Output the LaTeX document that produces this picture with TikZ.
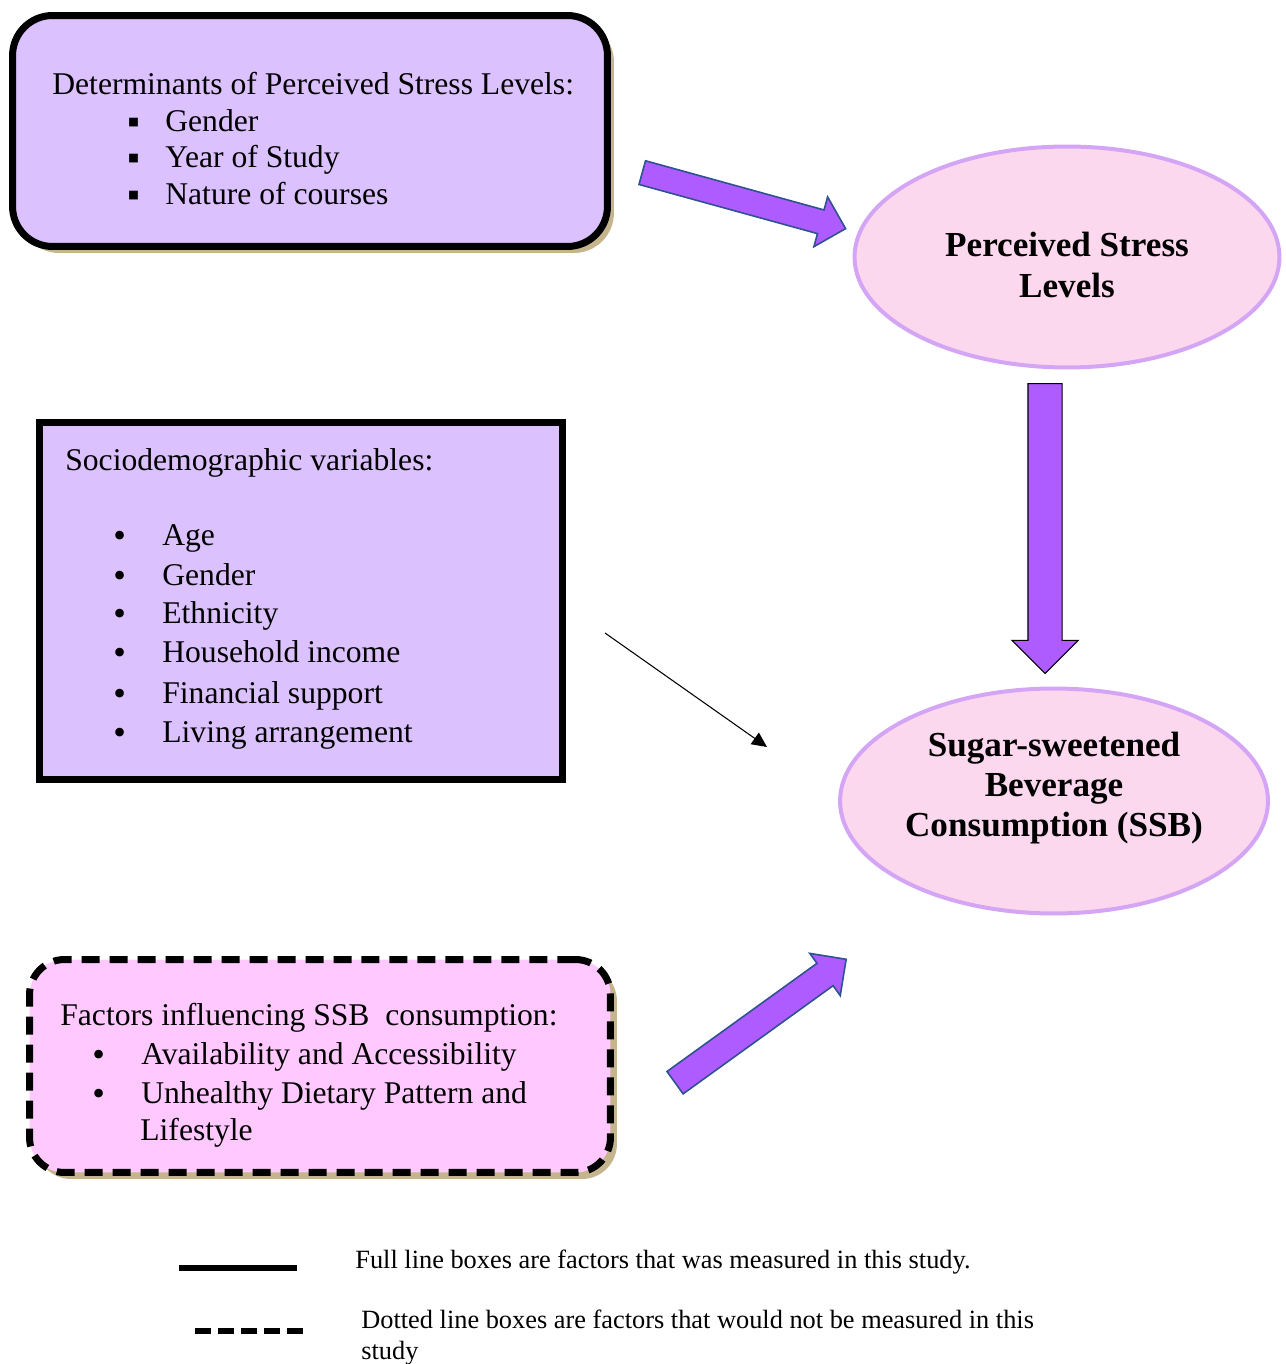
\documentclass[tikz,border=0pt]{standalone}
\usepackage{fontspec}
\setmainfont{Liberation Serif}
\usetikzlibrary{arrows.meta,shapes.geometric,shapes.arrows,shadows}

\definecolor{lavfill}{HTML}{DCC1FF}
\definecolor{pinkfill}{HTML}{FFC9FF}
\definecolor{bubfill}{HTML}{FCD8EE}
\definecolor{bubline}{HTML}{D4A5F5}
\definecolor{arrfill}{HTML}{AE5CFF}
\definecolor{arrline}{HTML}{2E5190}
\definecolor{tanshade}{HTML}{C4B58C}

\newcommand{\sqbul}{\makebox[0.76cm][l]{\raisebox{-0.8pt}[0pt][0pt]{\fontsize{20}{20}\selectfont▪}}}
\newcommand{\dotbul}{\makebox[0.98cm][l]{\raisebox{-1.2pt}[0pt][0pt]{\fontsize{20.5}{20.5}\selectfont•}}}

\begin{document}
\begin{tikzpicture}[x=0.02cm,y=-0.02cm,
  item text/.style={anchor=base west,inner sep=0pt,font=\fontsize{18}{21}\selectfont},
  key text/.style={anchor=base west,inner sep=0pt,font=\fontsize{15}{17}\selectfont},
  bub text/.style={align=center,inner sep=0pt,font=\fontsize{20}{22.8}\selectfont\bfseries},
  full box/.style={draw,line width=0.14cm,fill=lavfill},
  shade/.style={drop shadow={shadow xshift=0.13cm,shadow yshift=-0.13cm,fill=tanshade,opacity=1}},
  bubble/.style={ellipse,draw=bubline,line width=0.08cm,fill=bubfill,inner sep=0pt},
  fat arrow/.style={single arrow,fill=arrfill,draw=arrline,line width=0.9pt,inner xsep=0pt}]

  \useasboundingbox (0,0) rectangle (1285,1364);

  % boxes on the left
  \node[full box,shade,rounded corners=0.8cm,minimum width=11.9cm,minimum height=4.62cm] (det) at (310,131) {};
  \node[full box,minimum width=10.48cm,minimum height=7.14cm] (socio) at (301,601) {};
  \node[draw,line width=0.14cm,dash pattern=on 0.36cm off 0.2cm,fill=pinkfill,shade,rounded corners=0.7cm,minimum width=11.62cm,minimum height=4.26cm] (fact) at (320,1066) {};

  \node[item text] (detT) at (52,95) {Determinants of Perceived Stress Levels:};
  \node[item text] (det1) at (127,132) {\sqbul Gender};
  \node[item text] (det2) at (127,168) {\sqbul Year of Study};
  \node[item text] (det3) at (127,205) {\sqbul Nature of courses};

  \node[item text] (socT) at (65,470) {Sociodemographic variables:};
  \node[item text] (soc1) at (113,545) {\dotbul Age};
  \node[item text] (soc2) at (113,585) {\dotbul Gender};
  \node[item text] (soc3) at (113,623) {\dotbul Ethnicity};
  \node[item text] (soc4) at (113,662) {\dotbul Household income};
  \node[item text] (soc5) at (113,703) {\dotbul Financial support};
  \node[item text] (soc6) at (113,742) {\dotbul Living arrangement};

  \node[item text] (facT) at (60,1025) {Factors influencing SSB\ \ consumption:};
  \node[item text] (fac1) at (92,1064) {\dotbul Availability and Accessibility};
  \node[item text] (fac2) at (92,1103) {\dotbul Unhealthy Dietary Pattern and};
  \node[item text] (fac3) at (140,1140) {Lifestyle};

  % ellipses on the right
  \node[bubble,minimum width=8.5cm,minimum height=4.42cm] (pss) at (1067,257) {};
  \node[bub text] (pssT) at (1067,265) {Perceived Stress\\Levels};
  \node[bubble,minimum width=8.56cm,minimum height=4.5cm] (ssb) at (1054,801) {};
  \node[bub text] (ssbT) at (1054,788) {Sugar-sweetened\\Beverage\\Consumption (SSB)};

  % block arrows
  \node[fat arrow,rotate=-15.4,inner ysep=0.23cm,single arrow head extend=0.27cm,minimum height=4.22cm,minimum width=1cm] (arrDet) at (738,199) {};
  \node[fat arrow,draw=black,line width=0.6pt,rotate=-90,inner ysep=0.33cm,single arrow head extend=0.32cm,minimum height=5.8cm,minimum width=1.3cm] (arrPss) at (1045,520) {};
  \node[fat arrow,rotate=35.8,inner ysep=0.26cm,single arrow head extend=0.245cm,minimum height=4.22cm,minimum width=1cm] (arrFac) at (755,1025) {};

  % thin arrow
  \coordinate (thinA) at (605,633);
  \coordinate (thinB) at (767,747);
  \draw[-{Triangle[length=0.3cm,width=0.28cm]},line width=0.6pt] (thinA) -- (thinB);

  % key
  \coordinate (fullA) at (179,1268);
  \coordinate (fullB) at (297,1268);
  \coordinate (dashA) at (195,1331);
  \coordinate (dashB) at (305,1331);
  \draw[line width=0.12cm] (fullA) -- (fullB);
  \draw[line width=0.13cm,dash pattern=on 0.32cm off 0.14cm] (dashA) -- (dashB);
  \node[key text] (keyFull) at (355,1268) {Full line boxes are factors that was measured in this study.};
  \node[key text] (keyDash) at (361,1328) {Dotted line boxes are factors that would not be measured in this};
  \node[key text] (keyDash2) at (361,1359) {study};

\end{tikzpicture}
\end{document}
